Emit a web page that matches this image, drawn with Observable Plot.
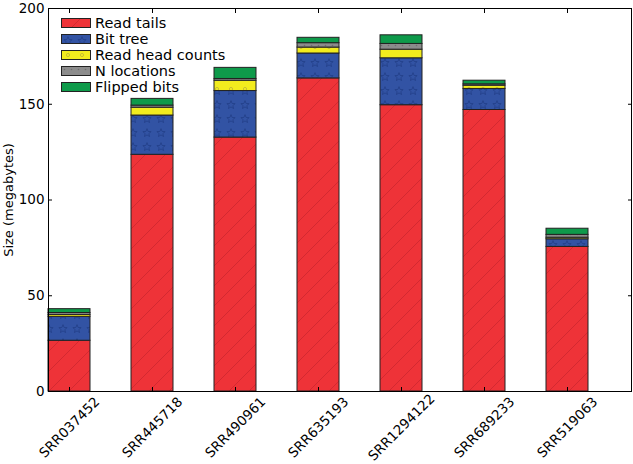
<!DOCTYPE html>
<html><head><meta charset="utf-8">
<script src="https://cdn.jsdelivr.net/npm/d3@7"></script>
<script src="https://cdn.jsdelivr.net/npm/@observablehq/plot@0.6"></script>
<style>
body{margin:0;background:#fff;font-family:"DejaVu Sans",sans-serif;}
#wrap{position:relative;width:633px;height:464px;}
#legend{position:absolute;left:61px;top:15px;font-size:14.5px;color:#000;line-height:16px;}
#legend .row{display:flex;align-items:center;height:16px;white-space:nowrap;}
#legend .sw{width:30px;height:10px;box-sizing:border-box;margin-right:4px;}
</style></head><body>
<svg width="0" height="0" style="position:absolute" id="defs-holder"><defs id="pdefs"></defs></svg>
<div id="wrap"><div id="legend"></div></div>
<script>
const samples = ["SRR037452","SRR445718","SRR490961","SRR635193","SRR1294122","SRR689233","SRR519063"];
const seriesNames = ["Read tails","Bit tree","Read head counts","N locations","Flipped bits"];
const readTails      = [26.5, 123.6, 132.6, 163.5, 149.5, 147.0, 75.5];
const bitTree        = [12.5, 20.5, 24.3, 13.0, 24.5, 11.0, 4.0];
const readHeadCounts = [1.0, 4.1, 5.4, 3.1, 4.5, 1.7, 0.8];
const nLocations     = [1.0, 1.1, 0.9, 2.3, 3.0, 0.7, 1.5];
const flippedBits    = [2.0, 3.5, 5.8, 2.8, 4.5, 1.9, 3.2];
const yTicks = [0, 50, 100, 150, 200];
const seriesValues = [readTails, bitTree, readHeadCounts, nLocations, flippedBits];

function starPath(cx, cy, R, r) {
  let p = "";
  for (let i = 0; i < 10; i++) {
    const a = -Math.PI / 2 + i * Math.PI / 5;
    const rad = i % 2 ? r : R;
    p += (i ? "L" : "M") + (cx + rad * Math.cos(a)).toFixed(2) + "," + (cy + rad * Math.sin(a)).toFixed(2);
  }
  return p + "Z";
}
const defs = `
<pattern id="pRed" patternUnits="userSpaceOnUse" width="20" height="20">
  <rect width="20" height="20" fill="#EE3338"/>
  <path d="M-1,1 l2,-2 M0,20 l20,-20 M19,21 l2,-2" stroke="#D02830" stroke-width="0.9"/>
</pattern>
<pattern id="pBlue" patternUnits="userSpaceOnUse" width="14" height="14">
  <rect width="14" height="14" fill="#3253A4"/>
  <path d="${starPath(7,7,4.4,1.9)}" fill="none" stroke="#22408A" stroke-width="0.9"/>
</pattern>
<pattern id="pYellow" patternUnits="userSpaceOnUse" width="14" height="14">
  <rect width="14" height="14" fill="#F2EC1E"/>
  <circle cx="7" cy="5" r="1.6" fill="none" stroke="#B3AC3A" stroke-width="0.7"/>
</pattern>
<pattern id="pGray" patternUnits="userSpaceOnUse" width="7" height="7">
  <rect width="7" height="7" fill="#8C8C8C"/>
  <circle cx="3.5" cy="3.5" r="0.8" fill="#6E6E6E"/>
</pattern>
<pattern id="pGreen" patternUnits="userSpaceOnUse" width="14" height="14">
  <rect width="14" height="14" fill="#0E9A4A"/>
</pattern>`;
document.getElementById("pdefs").innerHTML = defs;
const patternUrls = ["url(#pRed)","url(#pBlue)","url(#pYellow)","url(#pGray)","url(#pGreen)"];

const data = [];
seriesNames.forEach((s, k) => samples.forEach((name, i) => data.push({sample: name, series: s, value: seriesValues[k][i]})));

const plot = Plot.plot({
  width: 633, height: 464,
  marginLeft: 48, marginRight: 2, marginTop: 8, marginBottom: 73,
  style: {fontFamily: "DejaVu Sans", fontSize: "13.5px", background: "white", color: "black", overflow: "visible"},
  x: {domain: samples, paddingInner: 0.5, paddingOuter: 0.25, align: 0, label: null},
  y: {domain: [0, 200], label: null},
  color: {domain: seriesNames, range: patternUrls},
  marks: [
    Plot.barY(data, {x: "sample", y: "value", fill: "series", stroke: "#222", strokeWidth: 1}),
    Plot.frame({stroke: "black", strokeWidth: 1}),
    Plot.axisY(yTicks, {anchor: "left", tickSize: -4, tickPadding: 8, label: null}),
    Plot.axisY(yTicks, {anchor: "right", tickSize: -4, tickFormat: () => "", label: null}),
    Plot.axisX(samples, {anchor: "bottom", tickSize: -4, tickFormat: () => "", label: null}),
    Plot.axisX(samples, {anchor: "top", tickSize: -4, tickFormat: () => "", label: null}),
    Plot.text(samples, {x: d => d, frameAnchor: "bottom", dy: 36, rotate: -45, textAnchor: "middle", lineAnchor: "middle", fontSize: 13.5, fill: "black"}),
    Plot.text(["Size (megabytes)"], {frameAnchor: "left", dx: -40, rotate: -90, textAnchor: "middle", lineAnchor: "middle", fontSize: 13, fill: "black"})
  ]
});
document.getElementById("wrap").insertBefore(plot, document.getElementById("legend"));

const legend = d3.select("#legend");
seriesNames.forEach((s, k) => {
  const row = legend.append("div").attr("class", "row");
  row.append("svg").attr("class", "sw").attr("width", 30).attr("height", 10)
    .append("rect").attr("x", 0.5).attr("y", 0.5).attr("width", 29).attr("height", 9)
    .attr("fill", patternUrls[k]).attr("stroke", "#222").attr("stroke-width", 1);
  row.append("span").text(s);
});
</script>
</body></html>
